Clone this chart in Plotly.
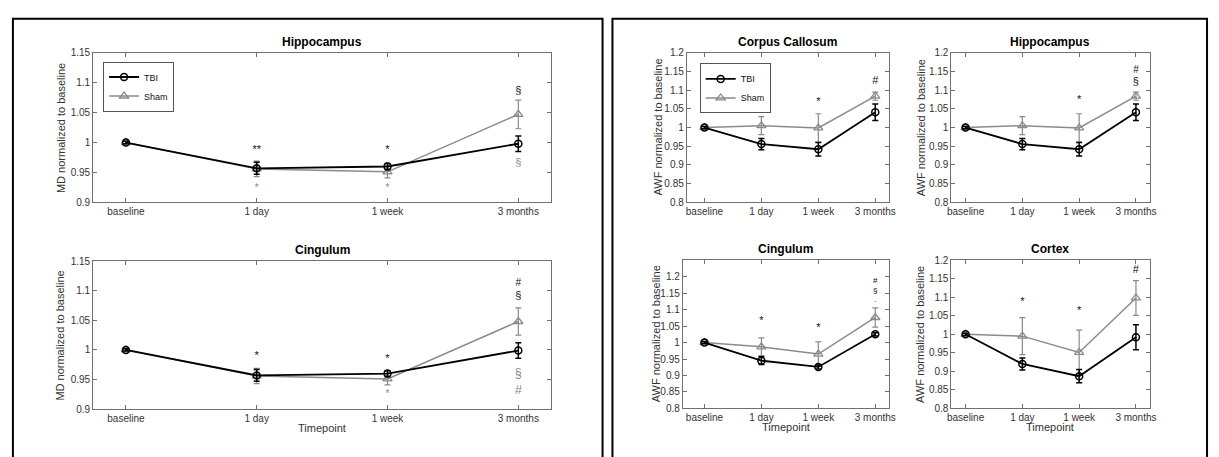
import plotly.graph_objects as go

# ---------------- data ----------------
timepoints = ["baseline", "1 day", "1 week", "3 months"]
tp_pos = [1, 2, 3, 4]

# MD, Hippocampus
md_hip_tbi = [1.0, 0.957, 0.960, 0.998]
md_hip_tbi_err = [0.002, 0.010, 0.005, 0.013]
md_hip_sham = [1.0, 0.956, 0.951, 1.047]
md_hip_sham_err = [0.002, 0.013, 0.010, 0.024]

# MD, Cingulum
md_cin_tbi = [1.0, 0.957, 0.960, 0.999]
md_cin_tbi_err = [0.002, 0.010, 0.005, 0.013]
md_cin_sham = [1.0, 0.956, 0.951, 1.048]
md_cin_sham_err = [0.002, 0.013, 0.010, 0.023]

# AWF, Corpus Callosum
awf_cc_tbi = [1.0, 0.956, 0.942, 1.041]
awf_cc_tbi_err = [0.003, 0.015, 0.018, 0.022]
awf_cc_sham = [1.0, 1.005, 0.999, 1.084]
awf_cc_sham_err = [0.003, 0.024, 0.038, 0.011]

# AWF, Hippocampus
awf_hip_tbi = [1.0, 0.956, 0.942, 1.041]
awf_hip_tbi_err = [0.003, 0.015, 0.018, 0.022]
awf_hip_sham = [1.0, 1.005, 0.999, 1.084]
awf_hip_sham_err = [0.003, 0.024, 0.038, 0.011]

# AWF, Cingulum
awf_cin_tbi = [1.0, 0.945, 0.926, 1.025]
awf_cin_tbi_err = [0.003, 0.012, 0.006, 0.005]
awf_cin_sham = [1.0, 0.987, 0.965, 1.076]
awf_cin_sham_err = [0.003, 0.027, 0.037, 0.029]

# AWF, Cortex
awf_ctx_tbi = [1.0, 0.920, 0.887, 0.992]
awf_ctx_tbi_err = [0.003, 0.016, 0.018, 0.034]
awf_ctx_sham = [1.0, 0.995, 0.951, 1.098]
awf_ctx_sham_err = [0.003, 0.050, 0.060, 0.047]

# significance markers: (timepoint index, y value, symbol, font size)
md_hip_marks_black = [(2, 0.987, "**", 11), (3, 0.987, "*", 11), (4, 1.086, "§", 11)]
md_hip_marks_gray = [(2, 0.924, "*", 10), (3, 0.924, "*", 10), (4, 0.965, "§", 11)]
md_cin_marks_black = [(2, 0.989, "*", 11), (3, 0.984, "*", 11), (4, 1.113, "#", 10), (4, 1.091, "§", 11)]
md_cin_marks_gray = [(3, 0.925, "*", 10), (4, 0.960, "§", 12), (4, 0.931, "#", 13)]
awf_cc_marks = [(3, 1.068, "*", 11), (4, 1.123, "#", 11)]
awf_hip_marks = [(3, 1.074, "*", 11), (4, 1.152, "#", 10), (4, 1.120, "§", 11)]
awf_cin_marks = [(2, 1.065, "*", 11), (3, 1.044, "*", 11), (4, 1.156, "#<br>§<br>·", 8)]
awf_ctx_marks = [(2, 1.086, "*", 11), (3, 1.063, "*", 11), (4, 1.172, "#", 11)]

# y tick values per measure
md_ticks = [0.9, 0.95, 1.0, 1.05, 1.1, 1.15]
awf_ticks = [0.8, 0.85, 0.9, 0.95, 1.0, 1.05, 1.1, 1.15, 1.2]

# ---------------- layout helpers ----------------
W, H = 1219, 457
FONT = "Liberation Sans, Arial, sans-serif"
TBI_C = "#000000"
SHAM_C = "#8a8a8a"
AX_C = "#707070"


def xd(a, b):
    return [a / W, b / W]


def yd(top, bottom):
    return [1 - bottom / H, 1 - top / H]


def fmt(v):
    return ("%g" % v)


panels = [
    dict(ax="", xpx=(90, 552), ypx=(48, 201.7), xr=[0.75, 4.25], yr=[0.9, 1.15], yt=md_ticks,
         title="Hippocampus", ylab="MD normalized to baseline", ylx=57,
         tbi=md_hip_tbi, tbie=md_hip_tbi_err, sham=md_hip_sham, shame=md_hip_sham_err,
         mb=md_hip_marks_black, mg=md_hip_marks_gray, legend="legend", xlab=False),
    dict(ax="2", xpx=(90, 552), ypx=(262, 414), xr=[0.75, 4.25], yr=[0.9, 1.15], yt=md_ticks,
         title="Cingulum", ylab="MD normalized to baseline", ylx=57,
         tbi=md_cin_tbi, tbie=md_cin_tbi_err, sham=md_cin_sham, shame=md_cin_sham_err,
         mb=md_cin_marks_black, mg=md_cin_marks_gray, legend=None, xlab=True),
    dict(ax="3", xpx=(689, 893), ypx=(48, 201.7), xr=[0.69, 4.24], yr=[0.8, 1.2], yt=awf_ticks,
         title="Corpus Callosum", ylab="AWF normalized to baseline", ylx=660,
         tbi=awf_cc_tbi, tbie=awf_cc_tbi_err, sham=awf_cc_sham, shame=awf_cc_sham_err,
         mb=awf_cc_marks, mg=[], legend="legend2", xlab=False),
    dict(ax="4", xpx=(956, 1156), ypx=(48, 201.7), xr=[0.75, 4.24], yr=[0.8, 1.2], yt=awf_ticks,
         title="Hippocampus", ylab="AWF normalized to baseline", ylx=925,
         tbi=awf_hip_tbi, tbie=awf_hip_tbi_err, sham=awf_hip_sham, shame=awf_hip_sham_err,
         mb=awf_hip_marks, mg=[], legend=None, xlab=False),
    dict(ax="5", xpx=(685, 893), ypx=(261, 413.3), xr=[0.62, 4.24], yr=[0.8, 1.25], yt=awf_ticks,
         title="Cingulum", ylab="AWF normalized to baseline", ylx=658,
         tbi=awf_cin_tbi, tbie=awf_cin_tbi_err, sham=awf_cin_sham, shame=awf_cin_sham_err,
         mb=awf_cin_marks, mg=[], legend=None, xlab=True),
    dict(ax="6", xpx=(956, 1156), ypx=(261, 413.3), xr=[0.75, 4.24], yr=[0.8, 1.2], yt=awf_ticks,
         title="Cortex", ylab="AWF normalized to baseline", ylx=925,
         tbi=awf_ctx_tbi, tbie=awf_ctx_tbi_err, sham=awf_ctx_sham, shame=awf_ctx_sham_err,
         mb=awf_ctx_marks, mg=[], legend=None, xlab=True),
]

fig = go.Figure()
annotations = []

for p in panels:
    xa = "x" + p["ax"]
    ya = "y" + p["ax"]
    show_leg = p["legend"] is not None
    leg = p["legend"] if show_leg else "legend"
    fig.add_trace(go.Scatter(
        x=tp_pos, y=p["sham"], mode="lines+markers", name="Sham",
        xaxis=xa, yaxis=ya, showlegend=show_leg, legend=leg, legendrank=2,
        line=dict(color=SHAM_C, width=1.5),
        marker=dict(symbol="triangle-up-open", size=8, color=SHAM_C, line=dict(width=1.3)),
        error_y=dict(type="data", array=p["shame"], visible=True, color=SHAM_C,
                     thickness=1.2, width=3),
    ))
    fig.add_trace(go.Scatter(
        x=tp_pos, y=p["tbi"], mode="lines+markers", name="TBI",
        xaxis=xa, yaxis=ya, showlegend=show_leg, legend=leg, legendrank=1,
        line=dict(color=TBI_C, width=1.8),
        marker=dict(symbol="circle-open", size=7, color=TBI_C, line=dict(width=1.5)),
        error_y=dict(type="data", array=p["tbie"], visible=True, color=TBI_C,
                     thickness=1.5, width=3),
    ))
    for marks, col in ((p["mb"], "#111111"), (p["mg"], SHAM_C)):
        if not marks:
            continue
        fig.add_trace(go.Scatter(
            x=[tp_pos[m[0] - 1] for m in marks], y=[m[1] for m in marks],
            text=[m[2] for m in marks], mode="text", textposition="middle center",
            textfont=dict(family=FONT, size=[m[3] for m in marks], color=col),
            xaxis=xa, yaxis=ya, showlegend=False, hoverinfo="skip",
        ))

    axkey = "xaxis" + p["ax"]
    aykey = "yaxis" + p["ax"]
    fig.layout[axkey] = dict(
        domain=xd(*p["xpx"]), range=p["xr"], anchor=ya,
        tickmode="array", tickvals=tp_pos, ticktext=timepoints,
        ticks="inside", ticklen=4, tickcolor=AX_C, tickwidth=1,
        showline=True, linecolor=AX_C, linewidth=1, mirror="allticks",
        showgrid=False, zeroline=False,
        tickfont=dict(family=FONT, size=10, color="#333333"),
    )
    fig.layout[aykey] = dict(
        domain=yd(*p["ypx"]), range=p["yr"], anchor=xa,
        tickmode="array", tickvals=p["yt"], ticktext=[fmt(v) for v in p["yt"]],
        ticks="inside", ticklen=4, tickcolor=AX_C, tickwidth=1,
        showline=True, linecolor=AX_C, linewidth=1, mirror="allticks",
        showgrid=False, zeroline=False,
        tickfont=dict(family=FONT, size=10, color="#333333"),
    )
    cx = (p["xpx"][0] + p["xpx"][1]) / 2 / W
    annotations.append(dict(
        text="<b>" + p["title"] + "</b>", xref="paper", yref="paper",
        x=cx, y=1 - (p["ypx"][0] - 11) / H, showarrow=False,
        font=dict(family=FONT, size=12, color="#000000"), xanchor="center", yanchor="middle",
    ))
    cy = 1 - (p["ypx"][0] + p["ypx"][1]) / 2 / H
    annotations.append(dict(
        text=p["ylab"], xref="paper", yref="paper", x=p["ylx"] / W, y=cy,
        textangle=-90, showarrow=False,
        font=dict(family=FONT, size=11, color="#333333"), xanchor="center", yanchor="middle",
    ))
    if p["xlab"]:
        annotations.append(dict(
            text="Timepoint", xref="paper", yref="paper", x=cx, y=1 - (p["ypx"][1] + 19) / H,
            showarrow=False, font=dict(family=FONT, size=11, color="#333333"),
            xanchor="center", yanchor="middle",
        ))

shapes = [
    dict(type="rect", xref="paper", yref="paper", x0=9 / W, x1=604 / W, y0=-0.05, y1=1 - 13 / H,
         line=dict(color="#000000", width=2), layer="below"),
    dict(type="rect", xref="paper", yref="paper", x0=614 / W, x1=1214 / W, y0=-0.05, y1=1 - 13 / H,
         line=dict(color="#000000", width=2), layer="below"),
]

leg_style = dict(
    bgcolor="white", bordercolor="#555555", borderwidth=1,
    font=dict(family=FONT, size=9, color="#111111"),
    xanchor="left", yanchor="top", tracegroupgap=0, itemwidth=30,
    traceorder="normal",
)

fig.update_layout(
    width=W, height=H, margin=dict(l=0, r=0, t=0, b=0),
    paper_bgcolor="white", plot_bgcolor="white",
    annotations=annotations, shapes=shapes,
    legend=dict(x=100 / W, y=1 - 57 / H, **leg_style),
    legend2=dict(x=702 / W, y=1 - 59 / H, **leg_style),
    font=dict(family=FONT),
)

fig.write_html("out.html", config={"displayModeBar": False},
               post_script="document.body.style.margin='0';document.body.style.padding='0';")
